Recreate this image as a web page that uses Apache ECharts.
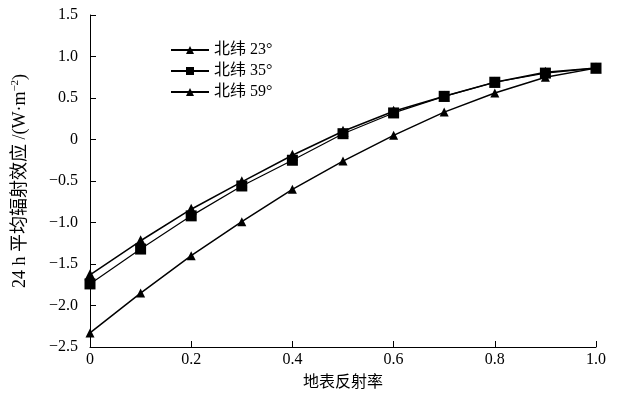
<!DOCTYPE html>
<html>
<head>
<meta charset="utf-8">
<script src="https://cdn.jsdelivr.net/npm/echarts@6/dist/echarts.min.js"></script>
<style>
  html, body { margin: 0; padding: 0; background: #fff; }
  #echarts { width: 638px; height: 399px; }
</style>
</head>
<body>
<div id="echarts"></div>
<script>
// 地表反射率
var albedo = [0, 0.1, 0.2, 0.3, 0.4, 0.5, 0.6, 0.7, 0.8, 0.9, 1.0];
var names = ['北纬 23°', '北纬 35°', '北纬 59°'];
var lat23 = [-1.63, -1.22, -0.84, -0.51, -0.19, 0.10, 0.34, 0.52, 0.69, 0.81, 0.86];
var lat35 = [-1.74, -1.32, -0.92, -0.56, -0.25, 0.07, 0.32, 0.52, 0.69, 0.80, 0.86];
var lat59 = [-2.33, -1.85, -1.40, -0.99, -0.60, -0.26, 0.05, 0.33, 0.56, 0.75, 0.86];

function pairs(ys) {
    return albedo.map(function (x, i) { return [x, ys[i]]; });
}
function fmt(v) {
    if (Math.abs(v) < 1e-9) return '0';
    var s = Math.abs(v).toFixed(1);
    return v < 0 ? '\u2212' + s : s;
}

var font = 'Liberation Serif, Noto Sans CJK SC, serif';
var myChart = echarts.init(document.getElementById('echarts'));
var option = {
    animation: false,
    backgroundColor: '#fff',
    textStyle: { fontFamily: font, color: '#000' },
    grid: { left: 90, right: 42, top: 15, bottom: 52 },
    legend: {
        orient: 'vertical',
        left: 165,
        top: 37,
        itemGap: 5,
        itemWidth: 38,
        itemHeight: 10,
        textStyle: { fontFamily: font, fontSize: 16, color: '#000' },
        data: names
    },
    xAxis: {
        type: 'value',
        min: 0, max: 1, interval: 0.2,
        name: '地表反射率',
        nameLocation: 'middle',
        nameGap: 28,
        nameTextStyle: { fontFamily: font, fontSize: 16, color: '#000' },
        axisLine: { onZero: false, lineStyle: { color: '#000', width: 1 } },
        axisTick: { inside: true, length: 6, lineStyle: { color: '#000' } },
        axisLabel: { formatter: fmt, fontSize: 16, color: '#000', margin: 5 },
        splitLine: { show: false }
    },
    yAxis: {
        type: 'value',
        min: -2.5, max: 1.5, interval: 0.5,
        name: '{n|24 h 平均辐射效应 /(W·m}{s|−2}{n|)}',
        nameLocation: 'middle',
        nameGap: 60,
        nameTextStyle: {
            rich: {
                n: { fontFamily: font, fontSize: 18, color: '#000' },
                s: { fontFamily: font, fontSize: 11, color: '#000', verticalAlign: 'top', padding: [0, 0, 9, 0] }
            }
        },
        axisLine: { show: true, onZero: false, lineStyle: { color: '#000', width: 1 } },
        axisTick: { show: true, inside: true, length: 6, lineStyle: { color: '#000' } },
        axisLabel: { formatter: fmt, fontSize: 16, color: '#000', margin: 12 },
        splitLine: { show: false }
    },
    series: [
        {
            name: names[0], type: 'line', data: pairs(lat23),
            symbol: 'triangle', symbolSize: 11,
            itemStyle: { color: '#000' },
            lineStyle: { color: '#000', width: 1.5 }
        },
        {
            name: names[1], type: 'line', data: pairs(lat35),
            symbol: 'rect', symbolSize: 11,
            itemStyle: { color: '#000' },
            lineStyle: { color: '#000', width: 1.2 }
        },
        {
            name: names[2], type: 'line', data: pairs(lat59),
            symbol: 'triangle', symbolSize: 9,
            itemStyle: { color: '#000' },
            lineStyle: { color: '#000', width: 1.5 }
        }
    ]
};
myChart.setOption(option);
</script>
</body>
</html>
